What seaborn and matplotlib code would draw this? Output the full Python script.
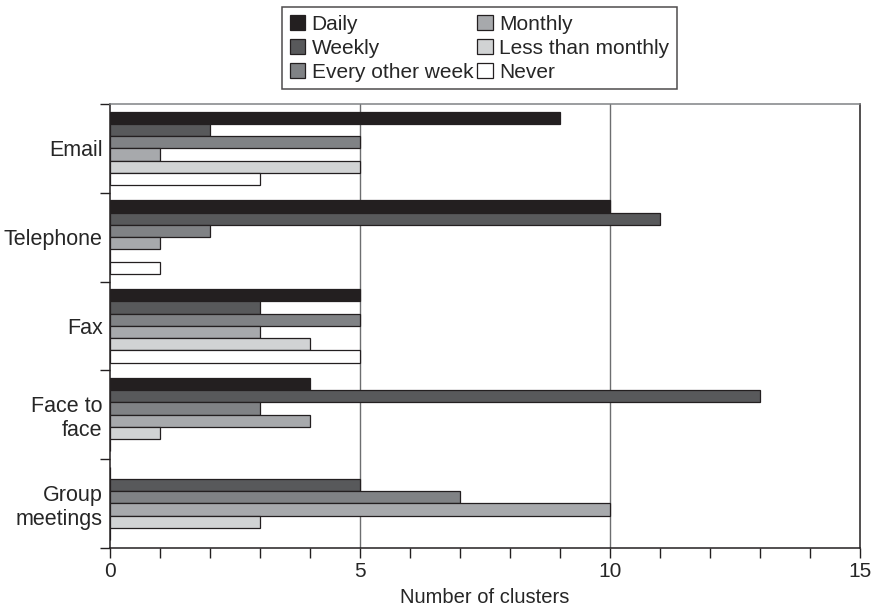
import numpy as np
import pandas as pd
import matplotlib
matplotlib.use("Agg")
import matplotlib.pyplot as plt
import seaborn as sns
from matplotlib.ticker import MultipleLocator

# -------------------------------------------------
# Data
# -------------------------------------------------
channels = ["Email", "Telephone", "Fax", "Face to face", "Group meetings"]
channel_labels = ["Email", "Telephone", "Fax", "Face to\nface", "Group\nmeetings"]
frequencies = ["Daily", "Weekly", "Every other week", "Monthly",
               "Less than monthly", "Never"]

daily = [9, 10, 5, 4, 0]
weekly = [2, 11, 3, 13, 5]
every_other_week = [5, 2, 5, 3, 7]
monthly = [1, 1, 3, 4, 10]
less_than_monthly = [5, 0, 4, 1, 3]
never = [3, 1, 5, 0, 0]

colors = ["#231f20", "#58595b", "#808285", "#a7a9ac", "#d1d3d4", "#ffffff"]

series = [daily, weekly, every_other_week, monthly, less_than_monthly, never]
rows = []
for freq, vals in zip(frequencies, series):
    for ch, v in zip(channels, vals):
        rows.append({"Channel": ch, "Frequency": freq, "Clusters": v})
df = pd.DataFrame(rows)

# -------------------------------------------------
# Plot
# -------------------------------------------------
sns.set_style("white")
plt.rcParams["font.family"] = ["Liberation Sans", "DejaVu Sans"]

fig = plt.figure(figsize=(8.77, 6.12), dpi=100)
ax = fig.add_axes([0.125, 0.105, 0.856, 0.725])

sns.barplot(data=df, y="Channel", x="Clusters", hue="Frequency",
            order=channels, hue_order=frequencies, palette=colors,
            orient="h", width=0.83, edgecolor="#231f20", linewidth=0.9,
            errorbar=None, ax=ax, zorder=3, saturation=1)

ax.set_xlim(0, 15)
ax.set_ylim(len(channels) - 0.5, -0.5)

# x axis
ax.xaxis.set_major_locator(MultipleLocator(5))
ax.xaxis.set_minor_locator(MultipleLocator(1))
ax.tick_params(axis="x", which="both", direction="out", length=7,
               width=1, color="#231f20", labelsize=15, pad=3, bottom=True)
ax.set_xlabel("Number of clusters", fontsize=14.5, labelpad=5)

# y axis: ticks at group boundaries, labels at centers
ax.set_yticks(np.arange(-0.5, len(channels) + 0.5, 1.0))
ax.set_yticklabels([])
ax.set_yticks(np.arange(len(channels)), minor=True)
ax.set_yticklabels(channel_labels, minor=True, fontsize=15.5, ha="right")
for lab in ax.get_yticklabels(minor=True):
    lab.set_multialignment("right")
ax.tick_params(axis="y", which="major", direction="out", length=7,
               width=1, color="#231f20", left=True)
ax.tick_params(axis="y", which="minor", length=0, pad=5)
ax.set_ylabel("")

# vertical grid
for xv in [5, 10]:
    ax.axvline(xv, color="#6d6e70", linewidth=1, zorder=1)

for side in ["left", "bottom", "right"]:
    ax.spines[side].set_color("#231f20")
    ax.spines[side].set_linewidth(1.1)
ax.spines["top"].set_color("#808285")
ax.spines["top"].set_linewidth(1.1)

# legend
handles, labels = ax.get_legend_handles_labels()
ax.legend_.remove()
leg = fig.legend(handles, labels, ncol=2, loc="upper left",
                 bbox_to_anchor=(0.322, 0.988), fontsize=15, frameon=True,
                 fancybox=False, edgecolor="#231f20", handlelength=0.75,
                 handleheight=0.75, handletextpad=0.3, columnspacing=0.2,
                 labelspacing=0.25, borderpad=0.35, borderaxespad=0)
leg.get_frame().set_linewidth(1.1)

fig.savefig("out.png", dpi=100)
